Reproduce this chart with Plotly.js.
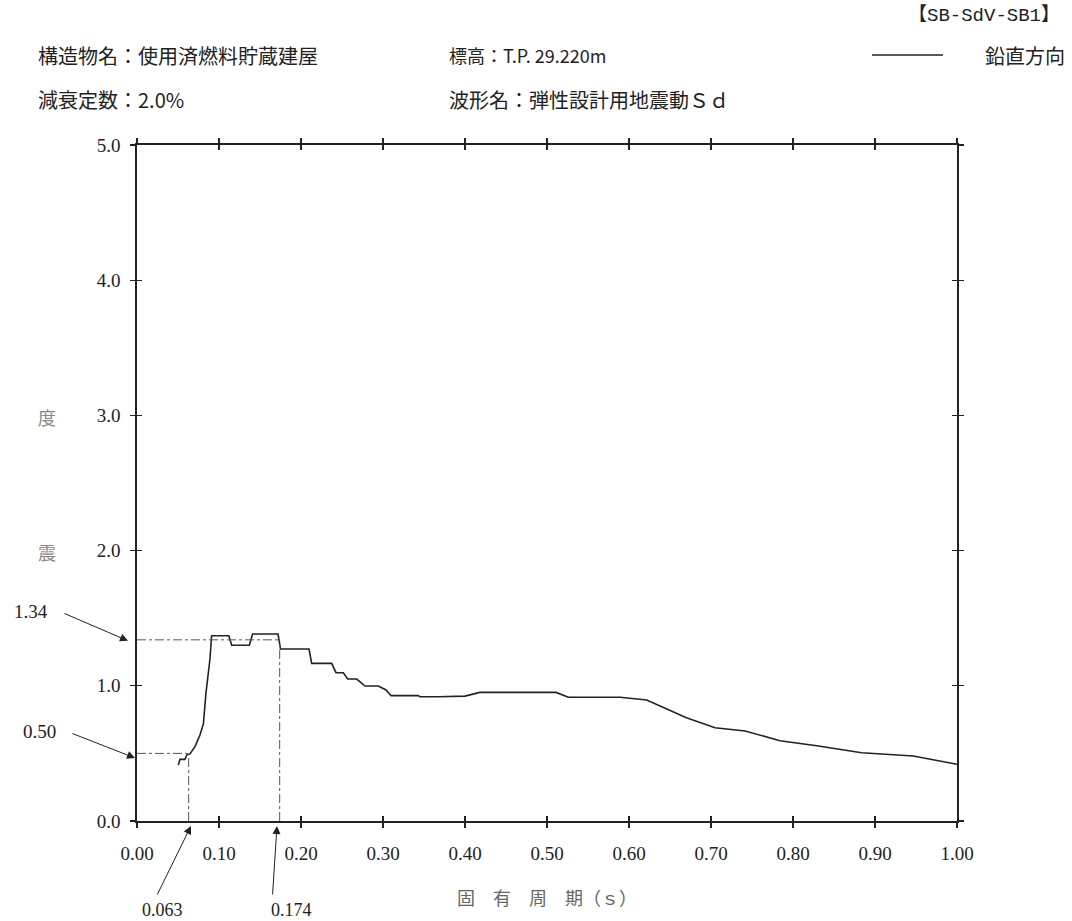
<!DOCTYPE html>
<html>
<head>
<meta charset="utf-8">
<script src="https://cdn.plot.ly/plotly-3.0.1.min.js"></script>
<style>
html,body{margin:0;padding:0;background:#fff;}
#chart{width:1072px;height:921px;}
</style>
</head>
<body>
<div id="chart"></div>
<script>
// ---- data ----
const periods = [0.0504, 0.0524, 0.0585, 0.0606, 0.0646, 0.0707, 0.0768, 0.081, 0.0841, 0.0858, 0.089, 0.091, 0.112, 0.1155, 0.137, 0.141, 0.172, 0.175, 0.2098, 0.213, 0.2374, 0.2427, 0.2516, 0.257, 0.268, 0.278, 0.2943, 0.3037, 0.3098, 0.343, 0.345, 0.3675, 0.40, 0.418, 0.511, 0.526, 0.589, 0.6216, 0.670, 0.7049, 0.7415, 0.784, 0.829, 0.8837, 0.9467, 1.00];
const accel = [0.414, 0.456, 0.456, 0.488, 0.496, 0.55, 0.636, 0.72, 0.946, 1.043, 1.20, 1.37, 1.37, 1.30, 1.30, 1.383, 1.383, 1.272, 1.272, 1.166, 1.166, 1.097, 1.097, 1.05, 1.05, 0.998, 0.998, 0.969, 0.927, 0.927, 0.919, 0.919, 0.924, 0.951, 0.951, 0.915, 0.915, 0.895, 0.763, 0.690, 0.666, 0.594, 0.557, 0.505, 0.481, 0.42];

const xTickVals = [0, 0.1, 0.2, 0.3, 0.4, 0.5, 0.6, 0.7, 0.8, 0.9, 1.0];
const xTickLabels = ["0.00", "0.10", "0.20", "0.30", "0.40", "0.50", "0.60", "0.70", "0.80", "0.90", "1.00"];
const yTickVals = [0, 1, 2, 3, 4, 5];
const yTickLabels = ["0.0", "1.0", "2.0", "3.0", "4.0", "5.0"];

const markPeriods = [0.063, 0.174];
const markAccels = [0.50, 1.34];
const markPeriodLabels = ["0.063", "0.174"];
const markAccelLabels = ["0.50", "1.34"];

const headerTexts = ["構造物名：使用済燃料貯蔵建屋", "標高：T.P. 29.220m", "減衰定数：2.0%", "波形名：弾性設計用地震動Ｓｄ", "【SB-SdV-SB1】"];
const legendName = "鉛直方向";
const xTitle = "固　有　周　期（ｓ）";
const yTitleChars = ["度", "震"];

// ---- style ----
const FONT = "Liberation Serif, Noto Sans CJK JP, serif";
const CJK = "Noto Sans CJK JP, Liberation Serif, sans-serif";
const AX = "#222";

const traces = [
  {x: periods, y: accel, type: "scatter", mode: "lines", line: {color: "#222", width: 1.6}, showlegend: false, hoverinfo: "skip"},
  {x: [0, 1], y: [0, 5], xaxis: "x2", yaxis: "y2", mode: "markers", marker: {opacity: 0}, showlegend: false, hoverinfo: "skip"}
];

const shapes = [];
for (let i = 0; i < markPeriods.length; i++) {
  const dl = {color: "#555", width: 1, dash: "dashdot"};
  shapes.push({type: "line", xref: "x", yref: "y", x0: 0, x1: markPeriods[i], y0: markAccels[i], y1: markAccels[i], line: dl});
  shapes.push({type: "line", xref: "x", yref: "y", x0: markPeriods[i], x1: markPeriods[i], y0: 0, y1: markAccels[i], line: dl});
}
// legend sample line
shapes.push({type: "line", xref: "paper", yref: "paper", x0: 0.8963, x1: 0.9829, y0: 1.1331, y1: 1.1331, line: {color: "#222", width: 1.6}});

const annotations = [];
function txt(t, x, y, xa, font) {
  annotations.push({text: t, xref: "paper", yref: "paper", x: x, y: y, xanchor: xa, yanchor: "middle", showarrow: false, font: font});
}
// header
const hdrFont = {family: CJK, size: 20, color: "#222"};
txt(headerTexts[0], -0.1232, 1.1331, "left", hdrFont);
txt(headerTexts[1], 0.378, 1.1331, "left", {family: CJK, size: 18, color: "#222"});
txt(headerTexts[2], -0.1232, 1.0680, "left", hdrFont);
txt(headerTexts[3], 0.378, 1.0680, "left", hdrFont);
txt(headerTexts[4], 1.128, 1.1923, "right", {family: "Liberation Mono, Noto Sans CJK JP, monospace", size: 19, color: "#222"});
txt(legendName, 1.1341, 1.1331, "right", hdrFont);
// x title
txt(xTitle, 0.5, -0.1124, "center", {family: CJK, size: 18, color: "#666"});
// y title glyphs
txt(yTitleChars[0], -0.1098, 0.5976, "center", {family: CJK, size: 18, color: "#888"});
txt(yTitleChars[1], -0.1098, 0.3979, "center", {family: CJK, size: 18, color: "#888"});

// arrow annotations (value labels)
const arrowCommon = {showarrow: true, arrowhead: 2, arrowsize: 1.6, arrowwidth: 1, arrowcolor: "#222", text: "", font: {size: 1}};
annotations.push(Object.assign({}, arrowCommon, {xref: "x", yref: "y", x: 0, y: markAccels[1], xshift: -9, yshift: -1, ax: -65, ay: -28}));
annotations.push(Object.assign({}, arrowCommon, {xref: "x", yref: "y", x: 0, y: markAccels[0], xshift: -2, yshift: -4.6, ax: -64, ay: -25}));
annotations.push(Object.assign({}, arrowCommon, {xref: "x", yref: "y", x: markPeriods[0], y: 0, xshift: 2.3, yshift: -5, ax: -34.4, ay: 70}));
annotations.push(Object.assign({}, arrowCommon, {xref: "x", yref: "y", x: markPeriods[1], y: 0, xshift: -2.7, yshift: -5, ax: -4.5, ay: 70}));

const lblFont = {family: FONT, size: 19, color: "#222"};
txt(markAccelLabels[1], -0.1293, 0.3092, "center", lblFont);
txt(markAccelLabels[0], -0.1183, 0.1317, "center", lblFont);
txt(markPeriodLabels[0], 0.0311, -0.1317, "center", {family: FONT, size: 18, color: "#222"});
txt(markPeriodLabels[1], 0.189, -0.1317, "center", {family: FONT, size: 18, color: "#222"});

const layout = {
  width: 1072, height: 921,
  margin: {l: 137, r: 115, t: 145, b: 100},
  paper_bgcolor: "#fff", plot_bgcolor: "#fff",
  showlegend: false,
  font: {family: FONT, size: 19, color: "#222"},
  xaxis: {
    range: [0, 1], tickmode: "array", tickvals: xTickVals, ticktext: xTickLabels,
    showgrid: false, zeroline: false, showline: true, linecolor: AX, linewidth: 1.6,
    mirror: "allticks", ticks: "outside", ticklen: 5, tickwidth: 1.4, tickcolor: AX,
    ticklabelstandoff: 10, tickfont: {family: FONT, size: 19, color: "#222"}
  },
  yaxis: {
    range: [0, 5], tickmode: "array", tickvals: yTickVals, ticktext: yTickLabels,
    showgrid: false, zeroline: false, showline: true, linecolor: AX, linewidth: 1.6,
    mirror: "allticks", ticks: "outside", ticklen: 5, tickwidth: 1.4, tickcolor: AX,
    ticklabelstandoff: 6, tickfont: {family: FONT, size: 19, color: "#222"}
  },
  xaxis2: {
    overlaying: "x", range: [0, 1], tickmode: "array", tickvals: xTickVals,
    showticklabels: false, showgrid: false, zeroline: false, showline: false,
    mirror: "allticks", ticks: "inside", ticklen: 5, tickwidth: 1.4, tickcolor: AX
  },
  yaxis2: {
    overlaying: "y", range: [0, 5], tickmode: "array", tickvals: yTickVals,
    showticklabels: false, showgrid: false, zeroline: false, showline: false,
    mirror: "allticks", ticks: "inside", ticklen: 5, tickwidth: 1.4, tickcolor: AX
  },
  shapes: shapes,
  annotations: annotations
};

Plotly.newPlot("chart", traces, layout, {displayModeBar: false, staticPlot: true});
</script>
</body>
</html>
